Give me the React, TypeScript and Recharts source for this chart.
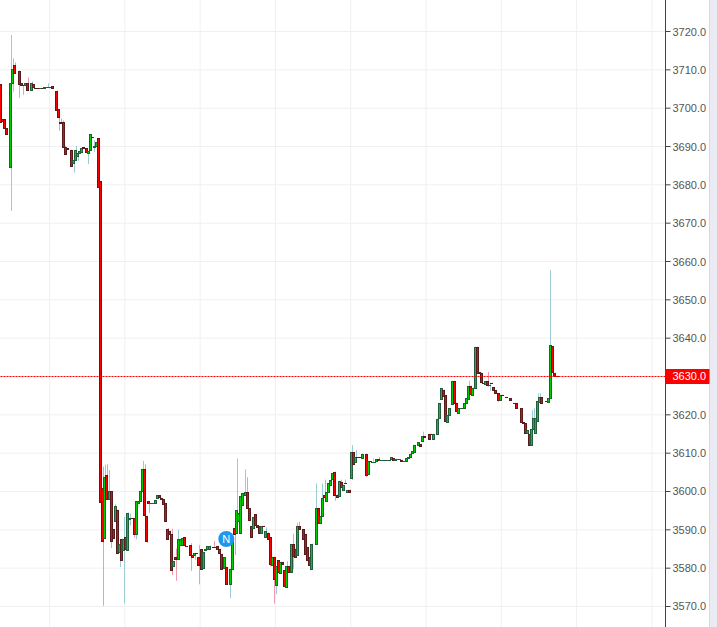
import React from 'react';
import { ComposedChart, Bar, XAxis, YAxis, CartesianGrid, ReferenceLine, ReferenceDot } from 'recharts';

// time slot of each candle, gaps are slots with no trades
const slots = [
  0, 1, 2, 3, 5, 6, 7, 9, 10, 11, 12, 13, 15, 16, 17, 18, 19, 20, 21, 22, 23, 24, 25, 27, 28, 29, 30, 31, 32, 34,
  35, 36, 37, 38, 39, 40, 41, 42, 43, 44, 45, 46, 47, 48, 49, 50, 51, 52, 53, 54, 55, 56, 57, 58, 59, 60, 61, 62, 63, 64,
  65, 66, 67, 68, 69, 70, 71, 72, 73, 74, 75, 76, 77, 78, 79, 80, 81, 82, 83, 84, 85, 86, 87, 88, 89, 91, 92, 93, 94, 95,
  96, 97, 98, 99, 100, 102, 103, 104, 105, 106, 107, 108, 110, 111, 112, 113, 114, 115, 116, 117, 118, 119, 120, 121, 122, 123, 124, 125, 126, 127,
  128, 129, 130, 131, 132, 133, 134, 135, 136, 137, 138, 139, 140, 141, 142, 143, 145, 146, 147, 148, 149, 151, 152, 153, 154, 155, 156, 157, 158, 159,
  160, 161, 162, 163, 164, 165, 166, 167, 168, 169, 170, 171, 172, 173, 175, 176, 177, 178, 179, 180, 181, 182, 183, 184, 185, 186, 187, 188, 189, 190,
  191, 192, 193, 194, 195, 196, 197, 198, 200, 201, 202, 203, 205, 206, 207, 209, 210, 211, 212, 213, 214, 215, 216, 217, 218, 219, 220, 221, 222, 223,
  224, 225, 226, 227, 228, 229, 230, 231, 232, 233, 234, 235, 236, 237, 238, 239, 240, 242, 244, 246, 247, 249, 250, 251, 252, 253, 254, 255, 256, 257,
  258, 259, 261, 262, 263, 264, 265, 266, 267,
];

const opens = [
  3706.3, 3697.1, 3697.1, 3694.7, 3684.7, 3706.5, 3711.2, 3709.8, 3706.5, 3706.1, 3706, 3706.5, 3704.6, 3706.2, 3705.3, 3705.3, 3705.2, 3705.2, 3705.1, 3705.4, 3705.4, 3705.4, 3705.7, 3704.6, 3699.7, 3696.5, 3696.3, 3689.9, 3689.5, 3689.2,
  3685.8, 3686.6, 3687.3, 3688.4, 3688.4, 3689.8, 3689.5, 3688.4, 3688.9, 3692.4, 3689.8, 3690.1, 3692.1, 3681, 3600.8, 3587.7, 3604.2, 3598, 3600, 3590.1, 3592.4, 3595.3, 3584.1, 3587.7, 3584.9, 3588, 3584.9, 3592.8, 3593.1, 3593.1,
  3589, 3597, 3597.5, 3600, 3605.8, 3593.7, 3597.5, 3597, 3597, 3596.9, 3598.2, 3599, 3598.4, 3598.1, 3596.9, 3590.1, 3589.8, 3589, 3580.6, 3582.8, 3582.3, 3586, 3586, 3588, 3585.8, 3586, 3583.5, 3583.5, 3583.9, 3583,
  3584.9, 3580.2, 3584.9, 3585.1, 3585.1, 3585.5, 3585.4, 3585.9, 3585.1, 3583.8, 3579.9, 3580.4, 3576, 3579.9, 3590.6, 3589, 3592.4, 3589.3, 3596.4, 3598.9, 3599.8, 3595.6, 3591, 3590.4, 3594, 3591.2, 3591, 3589.3, 3591.1, 3588.2,
  3589.3, 3588, 3580.8, 3583, 3575.6, 3582.1, 3578.9, 3581.7, 3579.5, 3575.1, 3580.6, 3579, 3586.2, 3585.1, 3583.4, 3591, 3590.1, 3589, 3585.4, 3583, 3579.9, 3586.4, 3595.8, 3591.9, 3593.6, 3599.2, 3597.6, 3599.9, 3601.8, 3603.1,
  3605.2, 3599.2, 3598.9, 3602.5, 3600.5, 3602.1, 3599.9, 3600.5, 3603.4, 3610.2, 3607.6, 3609, 3609, 3608.8, 3609.9, 3604.7, 3607.9, 3607.8, 3607.8, 3607.9, 3608.6, 3608.3, 3608.3, 3608.3, 3608.3, 3608.3, 3608.3, 3608.7, 3608.3, 3608.6,
  3608.6, 3608.3, 3608, 3608, 3608.7, 3609, 3609.9, 3610.3, 3612.1, 3612.5, 3613, 3614.4, 3615.1, 3615.1, 3613.8, 3615.1, 3619, 3624, 3626.6, 3625.1, 3618.2, 3619.9, 3623, 3628.9, 3623.2, 3620.4, 3621.8, 3621.8, 3621.8, 3623,
  3624.3, 3627.6, 3625.4, 3627.1, 3637.8, 3631.2, 3631, 3628.2, 3628, 3628.9, 3627.9, 3628.4, 3627.3, 3626.5, 3625.6, 3624, 3625.3, 3624.7, 3624.4, 3623.2, 3623, 3621.7, 3618, 3617.8, 3615.1, 3615.1, 3612.1, 3616.2, 3615.4, 3618.2,
  3623.5, 3624.7, 3623.5, 3623.2, 3624.3, 3637.9, 3631, 3630.2, 3630.1,
];

const closes = [
  3696.5, 3696.5, 3694.7, 3693.2, 3706.5, 3710.1, 3709.1, 3706.3, 3706.1, 3706, 3706.5, 3704.6, 3706.5, 3705.3, 3705.2, 3705.2, 3705.2, 3705.1, 3705.4, 3705.4, 3705.4, 3705.4, 3705.3, 3699.7, 3697.5, 3696.3, 3689.9, 3688.2, 3689.3, 3685.1,
  3686.6, 3689.2, 3688.2, 3688.9, 3689.5, 3689.5, 3688.4, 3688.9, 3693.2, 3692.3, 3690.1, 3691.1, 3679.2, 3597.3, 3586.9, 3603.7, 3597.9, 3600, 3586.9, 3587.7, 3596.3, 3584.1, 3586.2, 3582.3, 3587.7, 3584.9, 3594.5, 3593, 3593, 3589,
  3597.5, 3597.5, 3600, 3605.8, 3593.7, 3587.1, 3596.9, 3597, 3597, 3597.8, 3599, 3598.4, 3598.1, 3596.9, 3592.1, 3587.5, 3589, 3579.7, 3581.8, 3582.4, 3587.5, 3587.5, 3587.8, 3585.8, 3585.7, 3583.5, 3583, 3584, 3583.8, 3581,
  3579.7, 3584.3, 3585.1, 3585.8, 3585.9, 3585.4, 3585.3, 3585.1, 3584, 3579.9, 3582.8, 3576, 3579.9, 3587.7, 3589, 3595.1, 3594.5, 3598.9, 3599.5, 3599.8, 3595.6, 3592.4, 3588.2, 3593.4, 3591, 3590.6, 3589.3, 3591.1, 3591, 3589.7,
  3587.7, 3581, 3583, 3577.3, 3580.5, 3578.9, 3581.7, 3581.2, 3575.3, 3580.6, 3579, 3586.2, 3583, 3583, 3591, 3590.1, 3587.5, 3583.8, 3582.1, 3580.8, 3586.4, 3595.8, 3591.9, 3593.6, 3598.4, 3598.6, 3599.9, 3602.3, 3603.1, 3604.7,
  3599.2, 3598.6, 3602.8, 3601.2, 3601.8, 3602, 3600.5, 3600.1, 3610.2, 3607, 3609, 3608.9, 3608.9, 3609.9, 3604.4, 3608, 3607.8, 3607.8, 3607.8, 3608.5, 3608.3, 3608.3, 3608.3, 3608.3, 3608.3, 3608.3, 3608.9, 3608.3, 3608.5, 3608.6,
  3608.6, 3608, 3608, 3608.7, 3609, 3609.9, 3610.5, 3612.1, 3612.8, 3611.9, 3614.4, 3614.1, 3613.8, 3615, 3615.1, 3619, 3623, 3626.9, 3625.1, 3618.2, 3619.9, 3621.8, 3628.9, 3623.2, 3621.2, 3621.7, 3621.8, 3621.8, 3623, 3624.3,
  3627.6, 3625.6, 3627.1, 3637.8, 3631, 3631, 3628.6, 3628.1, 3628.9, 3627.9, 3627.9, 3628.3, 3626.5, 3625.6, 3623.8, 3625.3, 3625.2, 3624.6, 3624, 3623.1, 3621.8, 3618, 3617.8, 3615.1, 3616, 3612.3, 3616.2, 3619.2, 3619.2, 3623.5,
  3624.7, 3623.2, 3623.4, 3624.3, 3638.1, 3631, 3630.2, 3630.1, 3630,
];

// wick ends that reach past the body, as [slot, price]
const lowWicks = [
  [5, 3673.2], [6, 3704.3], [9, 3702.7], [11, 3703.5], [28, 3694.1], [35, 3683.2], [37, 3686.3], [42, 3685.4], [45, 3688.6], [47, 3667],
  [49, 3570.2], [53, 3585.3], [57, 3580.3], [59, 3570.8], [62, 3591.2], [64, 3588], [65, 3587.5], [69, 3591], [70, 3586.6], [71, 3594.4],
  [82, 3578.2], [84, 3576.7], [91, 3579.3], [93, 3582.1], [95, 3575.8], [110, 3572.1], [112, 3583.4], [129, 3580.4], [131, 3570.8], [132, 3573.2],
  [140, 3579.7], [146, 3581.8], [160, 3597.6], [168, 3603], [175, 3603.8], [233, 3627.3], [234, 3626.3], [238, 3623.4],
];

const highWicks = [
  [5, 3719.1], [6, 3713], [7, 3711.9], [13, 3708], [15, 3707], [23, 3706.5], [24, 3705.6], [29, 3697.3], [30, 3696.8], [31, 3690.2],
  [36, 3690.1], [45, 3691.7], [49, 3606.5], [50, 3607], [51, 3607.1], [52, 3605.6], [55, 3596.7], [59, 3593.4], [62, 3594.3], [68, 3608],
  [69, 3607.1], [80, 3590.5], [82, 3590.3], [84, 3585.1], [85, 3590.1], [91, 3586.5], [95, 3586], [102, 3587.1], [113, 3608.6], [114, 3596.9],
  [117, 3605.8], [118, 3603.7], [127, 3590.6], [137, 3581.8], [140, 3589], [142, 3591.8], [143, 3592.1], [151, 3602.1], [154, 3602.1], [155, 3603.1],
  [163, 3603.1], [165, 3603.1], [168, 3612.1], [170, 3610.8], [178, 3608.6], [181, 3609], [202, 3615.6], [223, 3626.6], [224, 3628.9], [233, 3631.2],
  [234, 3628.4], [254, 3621.2], [255, 3621.7], [257, 3625.6], [258, 3625.6], [263, 3657.8],
];

const priceTicks = [3570, 3580, 3590, 3600, 3610, 3620, 3630, 3640, 3650, 3660, 3670, 3680, 3690, 3700, 3710, 3720];
const gridSlots = [23.5, 59.5, 95.5, 131.5, 167.5, 203.5, 239.5, 275.5, 311.5];
const lastPrice = 3630;
const newsSlot = 108;
const newsPrice = 3587.6;

const lowBySlot = new Map(lowWicks.map(([s, p]) => [s, p]));
const highBySlot = new Map(highWicks.map(([s, p]) => [s, p]));

const candles = slots.map((slot, i) => {
  const open = opens[i];
  const close = closes[i];
  const bottom = Math.min(open, close);
  const top = Math.max(open, close);
  return {
    slot,
    up: close >= open,
    body: [bottom, top],
    wick: [lowBySlot.get(slot) ?? bottom, highBySlot.get(slot) ?? top],
  };
});

const Wick = (props: any) => {
  const { x, y, width, height, payload } = props;
  return (
    <rect
      x={Math.floor(x + width / 2)}
      y={y}
      width={1}
      height={height}
      fill={payload.up ? '#9ccbd3' : '#f09bae'}
    />
  );
};

const Body = (props: any) => {
  const { x, y, width, height, payload } = props;
  const left = Math.floor(x + width / 2) - 0.5;
  const top = Math.round(y) + 0.5;
  const h = Math.round(height);
  const edge = payload.up ? '#1f5f3a' : '#5a1a1a';
  if (h < 1) {
    return <line x1={left - 0.5} x2={left + 2.5} y1={top} y2={top} stroke={edge} />;
  }
  return (
    <rect
      x={left}
      y={top}
      width={2}
      height={h}
      fill={payload.up ? '#00cc00' : '#ff0000'}
      stroke={edge}
      strokeWidth={1}
    />
  );
};

const PriceTick = (props: any) => {
  const { x, y, payload } = props;
  const isLast = payload.value === lastPrice;
  return (
    <g>
      {isLast && <rect x={x - 7} y={y - 7.5} width={44} height={15} fill="#ff0000" />}
      <text
        x={x}
        y={y + 4}
        fontSize={11}
        fontFamily="'Liberation Sans', Arial, sans-serif"
        fill={isLast ? '#ffffff' : '#555555'}
      >
        {payload.value.toFixed(1)}
      </text>
    </g>
  );
};

export default function App() {
  return (
    <div style={{ position: 'fixed', left: 0, top: 0, width: 717, height: 627, background: '#fff', overflow: 'hidden' }}>
      <div style={{ position: 'absolute', left: 709, top: 0, width: 8, height: 627, boxSizing: 'border-box', background: '#ebebf3', borderLeft: '1px solid #d8d8e2' }} />
      <ComposedChart
        width={717}
        height={627}
        data={candles}
        margin={{ top: 0, right: 0, bottom: 0, left: 0 }}
        style={{ position: 'absolute', left: 0, top: 0 }}
      >
        <CartesianGrid stroke="#f0f0f0" xAxisId="wick" verticalValues={gridSlots} horizontalValues={priceTicks} />
        <XAxis xAxisId="wick" dataKey="slot" type="number" domain={[-0.19, 318]} hide allowDataOverflow />
        <XAxis xAxisId="body" dataKey="slot" type="number" domain={[-0.19, 318]} hide allowDataOverflow />
        <YAxis
          orientation="right"
          width={51.5}
          domain={[3564.65, 3728.22]}
          ticks={priceTicks}
          interval={0}
          allowDataOverflow
          stroke="#444444"
          tickSize={5}
          tick={<PriceTick />}
        />
        <Bar xAxisId="wick" dataKey="wick" barSize={1} shape={<Wick />} isAnimationActive={false} />
        <Bar xAxisId="body" dataKey="body" barSize={3} shape={<Body />} isAnimationActive={false} />
        <ReferenceLine xAxisId="wick" y={lastPrice} stroke="#ff0000" strokeDasharray="2 1" />
        <ReferenceDot
          xAxisId="wick"
          x={newsSlot}
          y={newsPrice}
          r={8}
          fill="#1e96f0"
          stroke="none"
          label={{ value: 'N', fill: '#ffffff', fontSize: 11, fontFamily: "'Liberation Sans', Arial, sans-serif", position: 'center' }}
        />
      </ComposedChart>
    </div>
  );
}
